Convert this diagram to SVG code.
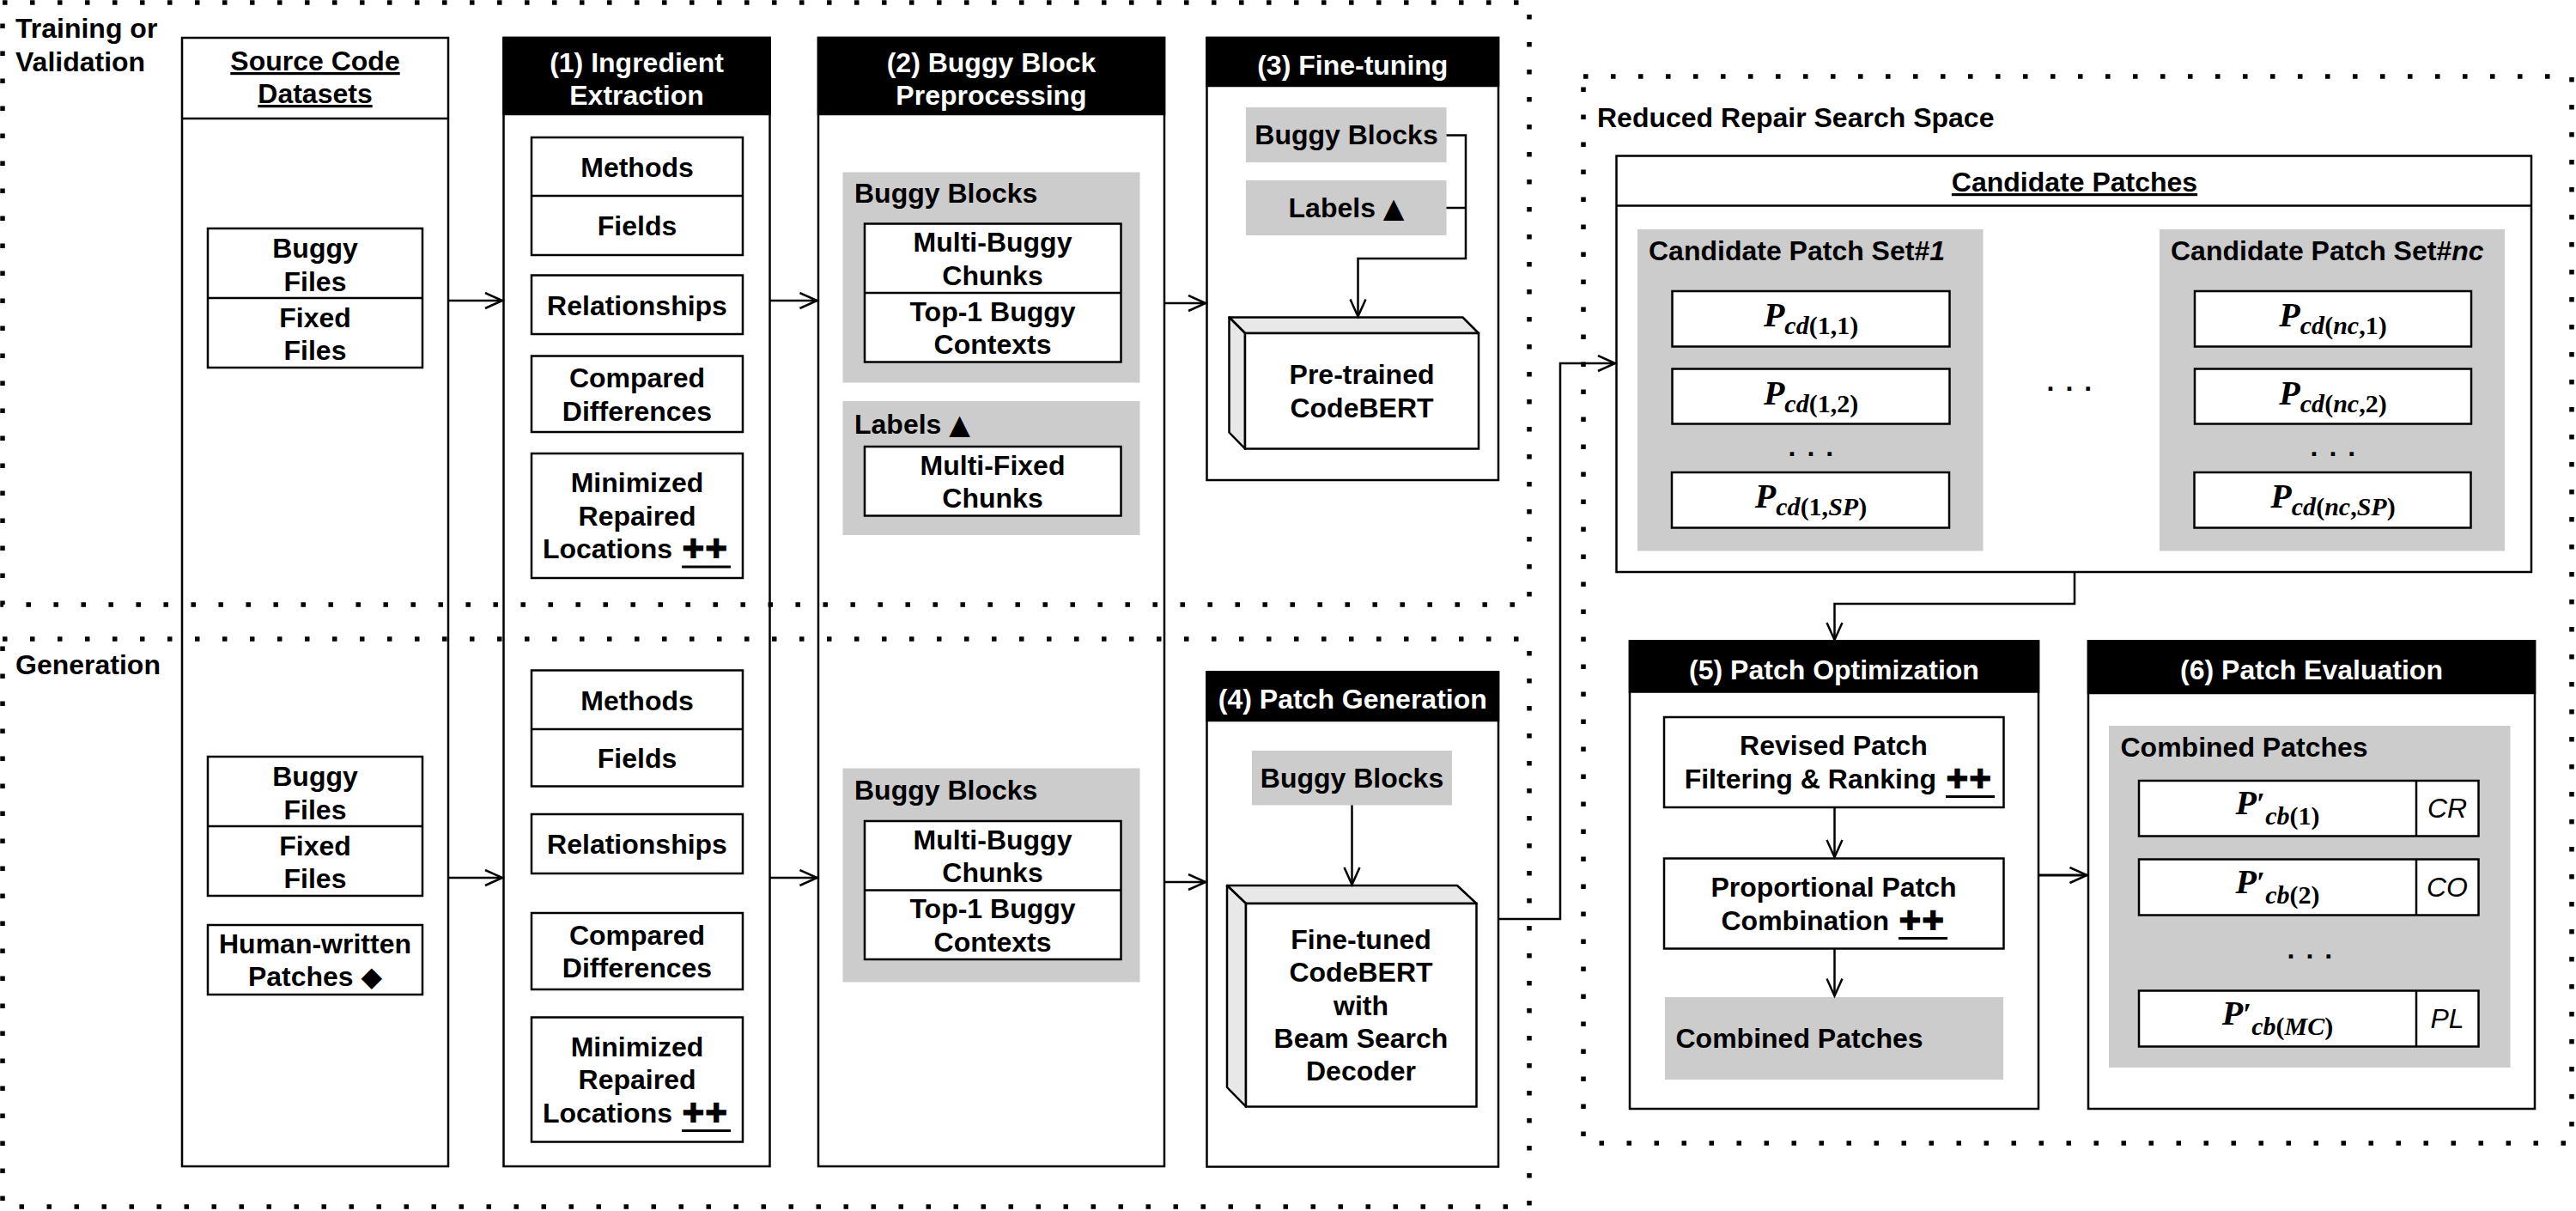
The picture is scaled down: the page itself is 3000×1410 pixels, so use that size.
<svg xmlns="http://www.w3.org/2000/svg" width="3000" height="1410" viewBox="0 0 3000 1410">
<defs>
<style>
.t{font-family:"Liberation Sans",Arial,Helvetica,sans-serif;font-size:32px;font-weight:bold;fill:#000}
.c{text-anchor:middle}
.w{fill:#fff}
.u{text-decoration:underline}
.sym{font-family:"DejaVu Sans",sans-serif;font-weight:normal}
.box{fill:#fff;stroke:#000;stroke-width:2.5}
.hd{fill:#000;stroke:#000;stroke-width:2.5}
.g{fill:#ccc}
.face{fill:#e8e8e8;stroke:#000;stroke-width:2.5;stroke-linejoin:round}
.ln{fill:none;stroke:#000;stroke-width:2.5}
.ar{fill:none;stroke:#000;stroke-width:2.5;marker-end:url(#a)}
.ul{stroke:#000;stroke-width:3}
.dot{fill:none;stroke:#000;stroke-width:5.5;stroke-dasharray:5.5 26.5}
.m{font-family:"Liberation Serif","Times New Roman",serif;font-weight:bold;font-size:40px;text-anchor:middle;fill:#000}
.mi{font-style:italic}
.sub{font-size:30px}
.cr{font-family:"Liberation Sans",Arial,sans-serif;font-style:italic;font-size:32px;text-anchor:middle;fill:#000}
.ell{font-family:"Liberation Sans",Arial,sans-serif;font-weight:bold;font-size:32px;letter-spacing:13px;fill:#000}
</style>
<marker id="a" markerWidth="24" markerHeight="22" refX="21" refY="10" orient="auto" markerUnits="userSpaceOnUse">
<path d="M1,1 L21,10 L1,19" fill="none" stroke="#000" stroke-width="2.5"/>
</marker>
</defs>
<rect width="3000" height="1410" fill="#fff"/>

<g id="source-code-datasets">
<rect class="box" x="212" y="44" width="310" height="1314"/>
<line class="ln" x1="212" y1="138" x2="522" y2="138"/>
<text class="t c u" x="367" y="82">Source Code</text>
<text class="t c u" x="367" y="120">Datasets</text>
</g>
<g id="buggy-fixed-files-train">
<rect class="box" x="242" y="266" width="250" height="162"/>
<line class="ln" x1="242" y1="347" x2="492" y2="347"/>
<text class="t c" x="367" y="300">Buggy</text>
<text class="t c" x="367" y="339">Files</text>
<text class="t c" x="367" y="381">Fixed</text>
<text class="t c" x="367" y="419">Files</text>
</g>
<g id="buggy-fixed-files-gen">
<rect class="box" x="242" y="881" width="250" height="162"/>
<line class="ln" x1="242" y1="962" x2="492" y2="962"/>
<text class="t c" x="367" y="915">Buggy</text>
<text class="t c" x="367" y="954">Files</text>
<text class="t c" x="367" y="996">Fixed</text>
<text class="t c" x="367" y="1034">Files</text>
</g>
<g id="human-written-patches">
<rect class="box" x="242" y="1077" width="250" height="81"/>
<text class="t c" x="367" y="1110">Human-written</text>
<text class="t c" x="367" y="1148">Patches <tspan class="sym">◆</tspan></text>
</g>

<g id="ingredient-extraction">
<rect class="box" x="586.5" y="44" width="310" height="1314"/>
<rect class="hd" x="586.5" y="44" width="310" height="89"/>
<text class="t c w" x="741.5" y="84">(1) Ingredient</text>
<text class="t c w" x="741.5" y="122">Extraction</text>
</g>
<g id="methods-fields-train">
<rect class="box" x="619" y="160" width="246" height="137"/>
<line class="ln" x1="619" y1="228" x2="865" y2="228"/>
<text class="t c" x="742" y="206">Methods</text>
<text class="t c" x="742" y="274">Fields</text>
</g>
<g id="relationships-train">
<rect class="box" x="619" y="320.5" width="246" height="68.5"/>
<text class="t c" x="742" y="366.5">Relationships</text>
</g>
<g id="compared-differences-train">
<rect class="box" x="619" y="414.5" width="246" height="88.5"/>
<text class="t c" x="742" y="451">Compared</text>
<text class="t c" x="742" y="489.5">Differences</text>
</g>
<g id="minimized-locations-train">
<rect class="box" x="619" y="528" width="246" height="145"/>
<text class="t c" x="742" y="573">Minimized</text>
<text class="t c" x="742" y="611.5">Repaired</text>
<text class="t" x="783" y="650" text-anchor="end">Locations</text>
<text class="t sym" x="794" y="650" font-size="34">✚✚</text>
<line class="ul" x1="794" y1="660" x2="851" y2="660"/>
</g>
<g id="methods-fields-gen">
<rect class="box" x="619" y="780.5" width="246" height="135"/>
<line class="ln" x1="619" y1="849" x2="865" y2="849"/>
<text class="t c" x="742" y="826.5">Methods</text>
<text class="t c" x="742" y="894">Fields</text>
</g>
<g id="relationships-gen">
<rect class="box" x="619" y="948" width="246" height="69"/>
<text class="t c" x="742" y="994">Relationships</text>
</g>
<g id="compared-differences-gen">
<rect class="box" x="619" y="1063" width="246" height="89"/>
<text class="t c" x="742" y="1100">Compared</text>
<text class="t c" x="742" y="1138">Differences</text>
</g>
<g id="minimized-locations-gen">
<rect class="box" x="619" y="1184.5" width="246" height="145"/>
<text class="t c" x="742" y="1229.5">Minimized</text>
<text class="t c" x="742" y="1268">Repaired</text>
<text class="t" x="783" y="1306.5" text-anchor="end">Locations</text>
<text class="t sym" x="794" y="1306.5" font-size="34">✚✚</text>
<line class="ul" x1="794" y1="1316.5" x2="851" y2="1316.5"/>
</g>

<g id="buggy-block-preprocessing">
<rect class="box" x="953" y="44" width="403" height="1314"/>
<rect class="hd" x="953" y="44" width="403" height="89"/>
<text class="t c w" x="1154.5" y="84">(2) Buggy Block</text>
<text class="t c w" x="1154.5" y="122">Preprocessing</text>
</g>
<g id="buggy-blocks-train">
<rect class="g" x="981.5" y="200.5" width="346" height="245"/>
<text class="t" x="995" y="236">Buggy Blocks</text>
<rect class="box" x="1007" y="260.5" width="298.5" height="161"/>
<line class="ln" x1="1007" y1="341" x2="1305.5" y2="341"/>
<text class="t c" x="1156" y="293">Multi-Buggy</text>
<text class="t c" x="1156" y="331.5">Chunks</text>
<text class="t c" x="1156" y="373.5">Top-1 Buggy</text>
<text class="t c" x="1156" y="412">Contexts</text>
</g>
<g id="labels-train">
<rect class="g" x="981.5" y="467" width="346" height="156"/>
<text class="t" x="995" y="505">Labels <tspan class="sym">▲</tspan></text>
<rect class="box" x="1007" y="520" width="298.5" height="80.5"/>
<text class="t c" x="1156" y="552.5">Multi-Fixed</text>
<text class="t c" x="1156" y="591">Chunks</text>
</g>
<g id="buggy-blocks-gen">
<rect class="g" x="981.5" y="894.5" width="346" height="249"/>
<text class="t" x="995" y="931">Buggy Blocks</text>
<rect class="box" x="1007" y="956" width="298.5" height="161"/>
<line class="ln" x1="1007" y1="1036.5" x2="1305.5" y2="1036.5"/>
<text class="t c" x="1156" y="988.5">Multi-Buggy</text>
<text class="t c" x="1156" y="1027">Chunks</text>
<text class="t c" x="1156" y="1069">Top-1 Buggy</text>
<text class="t c" x="1156" y="1107.5">Contexts</text>
</g>

<g id="fine-tuning">
<rect class="box" x="1405.5" y="44" width="339.5" height="515"/>
<rect class="hd" x="1405.5" y="44" width="339.5" height="56"/>
<text class="t c w" x="1575.3" y="87">(3) Fine-tuning</text>
</g>
<g id="ft-buggy-blocks">
<rect class="g" x="1451" y="125" width="233.5" height="64"/>
<text class="t c" x="1568" y="168">Buggy Blocks</text>
</g>
<g id="ft-labels">
<rect class="g" x="1451" y="210" width="233.5" height="64"/>
<text class="t c" x="1568" y="253">Labels <tspan class="sym">▲</tspan></text>
</g>
<g id="pretrained-codebert">
<polygon class="face" points="1431.5,369.5 1703.5,369.5 1722,388 1450,388"/>
<polygon class="face" points="1431.5,369.5 1450,388 1450,522.5 1431.5,503.5"/>
<rect class="box" x="1450" y="388" width="272" height="134.5"/>
<text class="t c" x="1586" y="447">Pre-trained</text>
<text class="t c" x="1586" y="486">CodeBERT</text>
</g>

<g id="patch-generation">
<rect class="box" x="1405.5" y="782.5" width="339.5" height="576"/>
<rect class="hd" x="1405.5" y="782.5" width="339.5" height="56.5"/>
<text class="t c w" x="1575.3" y="825">(4) Patch Generation</text>
</g>
<g id="pg-buggy-blocks">
<rect class="g" x="1458" y="874" width="233" height="63.5"/>
<text class="t c" x="1574.5" y="917">Buggy Blocks</text>
</g>
<g id="finetuned-codebert">
<polygon class="face" points="1429,1031 1697,1031 1719.5,1052 1451,1052"/>
<polygon class="face" points="1429,1031 1451,1052 1451,1288.5 1429,1266"/>
<rect class="box" x="1451" y="1052" width="268.5" height="236.5"/>
<text class="t c" x="1585" y="1104.5">Fine-tuned</text>
<text class="t c" x="1585" y="1143">CodeBERT</text>
<text class="t c" x="1585" y="1181.5">with</text>
<text class="t c" x="1585" y="1220">Beam Search</text>
<text class="t c" x="1585" y="1258">Decoder</text>
</g>

<g id="candidate-patches">
<rect class="box" x="1882.5" y="181.5" width="1065.5" height="484.5"/>
<line class="ln" x1="1882.5" y1="239.5" x2="2948" y2="239.5"/>
<text class="t c u" x="2416" y="223">Candidate Patches</text>
<text class="ell" x="2383.5" y="454.5">...</text>
</g>
<g id="candidate-patch-set-1">
<rect class="g" x="1907" y="267" width="402.5" height="374.5"/>
<text class="t" x="1920" y="303">Candidate Patch Set#<tspan font-style="italic">1</tspan></text>
<rect class="box" x="1947.5" y="339" width="323" height="64.5"/>
<text class="m" x="2109" y="380"><tspan class="mi">P</tspan><tspan class="sub" dy="9"><tspan class="mi">cd</tspan>(1,1)</tspan></text>
<rect class="box" x="1947.5" y="429.5" width="323" height="64"/>
<text class="m" x="2109" y="470.5"><tspan class="mi">P</tspan><tspan class="sub" dy="9"><tspan class="mi">cd</tspan>(1,2)</tspan></text>
<text class="ell" x="2082.5" y="530.5">...</text>
<rect class="box" x="1947" y="550" width="323" height="64.5"/>
<text class="m" x="2109" y="591"><tspan class="mi">P</tspan><tspan class="sub" dy="9"><tspan class="mi">cd</tspan>(1,<tspan class="mi">SP</tspan>)</tspan></text>
</g>
<g id="candidate-patch-set-nc">
<rect class="g" x="2515" y="267" width="402" height="374.5"/>
<text class="t" x="2528" y="303">Candidate Patch Set#<tspan font-style="italic">nc</tspan></text>
<rect class="box" x="2556" y="339" width="322" height="64.5"/>
<text class="m" x="2717" y="380"><tspan class="mi">P</tspan><tspan class="sub" dy="9"><tspan class="mi">cd</tspan>(<tspan class="mi">nc</tspan>,1)</tspan></text>
<rect class="box" x="2556" y="429.5" width="322" height="64"/>
<text class="m" x="2717" y="470.5"><tspan class="mi">P</tspan><tspan class="sub" dy="9"><tspan class="mi">cd</tspan>(<tspan class="mi">nc</tspan>,2)</tspan></text>
<text class="ell" x="2690.5" y="530.5">...</text>
<rect class="box" x="2555.5" y="550" width="322" height="64.5"/>
<text class="m" x="2717" y="591"><tspan class="mi">P</tspan><tspan class="sub" dy="9"><tspan class="mi">cd</tspan>(<tspan class="mi">nc</tspan>,<tspan class="mi">SP</tspan>)</tspan></text>
</g>

<g id="patch-optimization">
<rect class="box" x="1898" y="746.5" width="476" height="544.5"/>
<rect class="hd" x="1898" y="746.5" width="476" height="59"/>
<text class="t c w" x="2136" y="791">(5) Patch Optimization</text>
</g>
<g id="revised-patch-filtering">
<rect class="box" x="1938" y="835" width="395.5" height="105"/>
<text class="t c" x="2135.5" y="879">Revised Patch</text>
<text class="t" x="2255" y="917.5" text-anchor="end">Filtering &amp; Ranking</text>
<text class="t sym" x="2266" y="917.5" font-size="34">✚✚</text>
<line class="ul" x1="2266" y1="927.5" x2="2323" y2="927.5"/>
</g>
<g id="proportional-patch-combination">
<rect class="box" x="1938" y="999.5" width="395.5" height="105"/>
<text class="t c" x="2135.5" y="1044">Proportional Patch</text>
<text class="t" x="2200" y="1082.5" text-anchor="end">Combination</text>
<text class="t sym" x="2211" y="1082.5" font-size="34">✚✚</text>
<line class="ul" x1="2211" y1="1092.5" x2="2268" y2="1092.5"/>
</g>
<g id="combined-patches-opt">
<rect class="g" x="1939" y="1161" width="394" height="96"/>
<text class="t" x="1951.5" y="1220">Combined Patches</text>
</g>

<g id="patch-evaluation">
<rect class="box" x="2432" y="746.5" width="520" height="544.5"/>
<rect class="hd" x="2432" y="746.5" width="520" height="60.5"/>
<text class="t c w" x="2692" y="791">(6) Patch Evaluation</text>
</g>
<g id="combined-patches-eval">
<rect class="g" x="2456" y="845" width="467.5" height="398"/>
<text class="t" x="2469.5" y="881">Combined Patches</text>
<rect class="box" x="2491" y="909" width="395.5" height="64.5"/>
<line class="ln" x1="2814" y1="909" x2="2814" y2="973.5"/>
<text class="m" x="2652.5" y="948"><tspan class="mi">P</tspan><tspan font-size="36">′</tspan><tspan class="sub" dy="12"><tspan class="mi">cb</tspan>(1)</tspan></text>
<text class="cr" x="2850" y="952">CR</text>
<rect class="box" x="2491" y="1000.5" width="395.5" height="65"/>
<line class="ln" x1="2814" y1="1000.5" x2="2814" y2="1065.5"/>
<text class="m" x="2652.5" y="1040"><tspan class="mi">P</tspan><tspan font-size="36">′</tspan><tspan class="sub" dy="12"><tspan class="mi">cb</tspan>(2)</tspan></text>
<text class="cr" x="2850" y="1044">CO</text>
<text class="ell" x="2663.5" y="1115.5">...</text>
<rect class="box" x="2491" y="1153.5" width="395.5" height="65"/>
<line class="ln" x1="2814" y1="1153.5" x2="2814" y2="1218.5"/>
<text class="m" x="2652.5" y="1193"><tspan class="mi">P</tspan><tspan font-size="36">′</tspan><tspan class="sub" dy="12"><tspan class="mi">cb</tspan>(<tspan class="mi">MC</tspan>)</tspan></text>
<text class="cr" x="2850" y="1197">PL</text>
</g>

<g id="connectors">
<path class="ar" d="M523,350 H585"/>
<path class="ar" d="M523,1022 H585"/>
<path class="ar" d="M897,350 H951.5"/>
<path class="ar" d="M897,1022 H951.5"/>
<path class="ar" d="M1356,353 H1404"/>
<path class="ar" d="M1356,1027 H1404"/>
<path class="ln" d="M1684.5,242 H1707"/>
<path class="ar" d="M1684.5,157.5 H1707 V301 H1581.5 V368.5"/>
<path class="ar" d="M1574.5,937.5 V1030"/>
<path class="ar" d="M1745,1070 H1817 V423 H1881"/>
<path class="ar" d="M2416,666 V703 H2136.5 V745"/>
<path class="ar" d="M2136.5,940 V998"/>
<path class="ar" d="M2136.5,1104.5 V1159.5"/>
<path class="ar" d="M2374,1019 H2430.5" style="stroke-width:3"/>
</g>

<g id="regions">
<rect class="dot" x="3" y="3" width="1778" height="701"/>
<rect class="dot" x="3" y="744" width="1778" height="661"/>
<rect class="dot" x="1844" y="89" width="1151" height="1242"/>
<text class="t" x="18" y="44">Training or</text>
<text class="t" x="18" y="83">Validation</text>
<text class="t" x="18" y="785">Generation</text>
<text class="t" x="1860" y="148">Reduced Repair Search Space</text>
</g>
</svg>
